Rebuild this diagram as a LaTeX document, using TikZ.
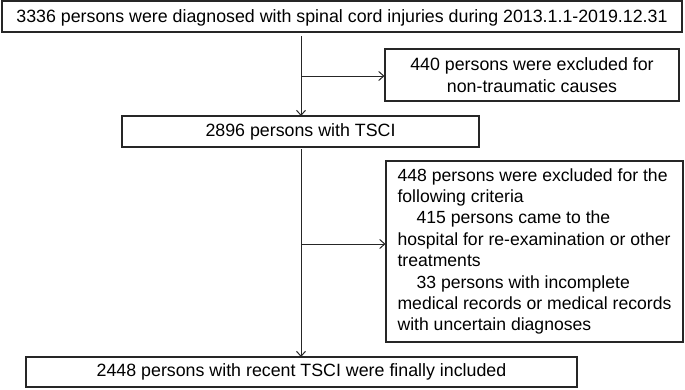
\documentclass[tikz,border=0pt]{standalone}
\usepackage{fontspec}
\setmainfont{Liberation Sans}
\usetikzlibrary{arrows.meta}
\begin{document}
\begin{tikzpicture}[x=1pt,y=-1pt,
  box/.style={draw=black!85, line width=1.1pt, inner sep=0pt, font=\fontsize{17.8}{22}\selectfont},
  arr/.style={draw=black!85, line width=1pt, -{Straight Barb[length=5pt,width=9pt]}}]
\useasboundingbox (0,0) rectangle (685,389);
\node[box, minimum width=680pt, minimum height=31pt, text depth=1pt] (b1) at (342,16.5) {3336 persons were diagnosed with spinal cord injuries during 2013.1.1-2019.12.31};
\node[box, minimum width=294pt, minimum height=52pt, align=center] (b2) at (532,75) {440 persons were excluded for\\non-traumatic causes};
\node[box, minimum width=357pt, minimum height=31pt] (b3) at (300.5,131.5) {2896 persons with TSCI};
\node[box, minimum width=297pt, minimum height=181pt, align=left, font=\fontsize{17.6}{21.4}\selectfont] (b4) at (534.5,251.5) {448 persons were excluded for the\\following criteria\\\hspace*{19pt}415 persons came to the\\hospital for re-examination or other\\treatments\\\hspace*{19pt}33 persons with incomplete\\medical records or medical records\\with uncertain diagnoses};
\node[box, minimum width=551pt, minimum height=30pt] (b5) at (301.5,372) {2448 persons with recent TSCI were finally included};
\coordinate (t1) at (301,36);
\coordinate (t2) at (301,116);
\coordinate (j1) at (301,76);
\coordinate (t3) at (301,149);
\coordinate (t4) at (301,357);
\coordinate (j2) at (301,244);
\draw[arr] (t1) -- (t2);
\draw[arr] (j1) -- (j1 -| b2.west);
\draw[arr] (t3) -- (t4);
\draw[arr] (j2) -- (j2 -| b4.west);
\end{tikzpicture}
\end{document}
